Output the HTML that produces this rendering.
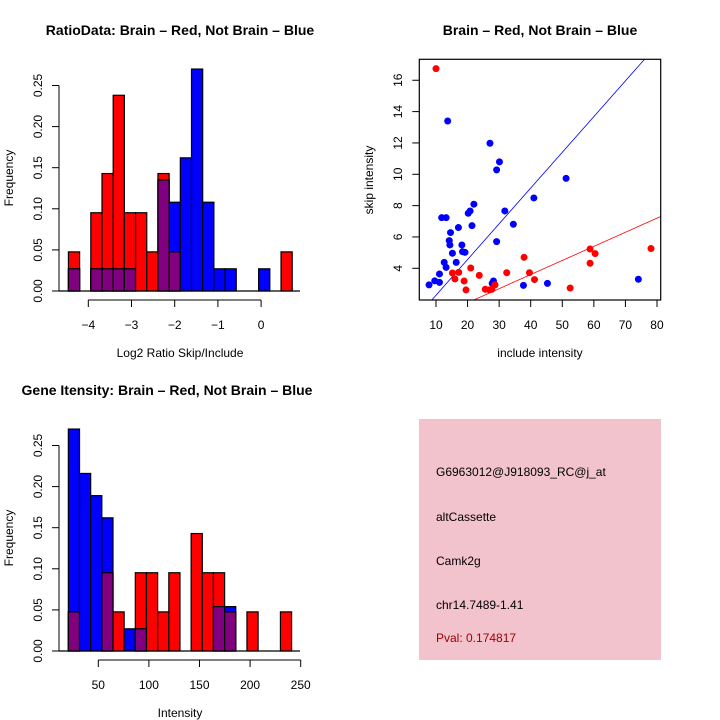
<!DOCTYPE html>
<html><head><meta charset="utf-8"><style>
html,body{margin:0;padding:0;background:#fff}
svg{display:block;font-family:"Liberation Sans",Arial,sans-serif}
</style></head><body>
<svg id="chart" width="720" height="720" viewBox="0 0 720 720" xmlns="http://www.w3.org/2000/svg">
<rect width="720" height="720" fill="#fff"/>
<text x="180" y="35" font-size="14" font-weight="bold" text-anchor="middle">RatioData: Brain – Red, Not Brain – Blue</text>
<text x="540" y="35" font-size="14" font-weight="bold" text-anchor="middle">Brain – Red, Not Brain – Blue</text>
<text x="167" y="395" font-size="14" font-weight="bold" text-anchor="middle">Gene Itensity: Brain – Red, Not Brain – Blue</text>
<text x="180" y="357" font-size="12" text-anchor="middle">Log2 Ratio Skip/Include</text>
<text transform="translate(13,178) rotate(-90)" font-size="12" text-anchor="middle">Frequency</text>
<text x="540" y="357" font-size="12" text-anchor="middle">include intensity</text>
<text transform="translate(373,180) rotate(-90)" font-size="12" text-anchor="middle">skip intensity</text>
<text x="180" y="717" font-size="12" text-anchor="middle">Intensity</text>
<text transform="translate(13,538) rotate(-90)" font-size="12" text-anchor="middle">Frequency</text>
<g>
<rect x="419" y="419" width="242" height="241" fill="#f2c3cc"/>
<text x="436" y="476" font-size="12">G6963012@J918093_RC@j_at</text>
<text x="436" y="521" font-size="12">altCassette</text>
<text x="436" y="565" font-size="12">Camk2g</text>
<text x="436" y="609" font-size="12">chr14.7489-1.41</text>
<text x="436" y="642" font-size="12" fill="#a00000">Pval: 0.174817</text>
</g>
</svg>
<script>
const ratioRed=[0.0476,0,0.0952,0.1429,0.2381,0.0952,0.0952,0.0476,0.1429,0.0476,0,0,0,0,0,0,0,0,0,0.0476];
const ratioBlue=[0.027,0,0.027,0.027,0.027,0.027,0,0,0.135,0.108,0.162,0.270,0.108,0.027,0.027,0,0,0.027,0,0];
const ratioTicks=[-4,-3,-2,-1,0];
const geneRed=[0.0476,0,0,0.0952,0.0476,0,0.0952,0.0952,0.0476,0.0952,0,0.1429,0.0952,0.0952,0.0476,0,0.0476,0,0,0.0476];
const geneBlue=[0.270,0.216,0.189,0.162,0,0.027,0.027,0,0,0,0,0,0,0.054,0.054,0,0,0,0,0];
const geneTicks=[50,100,150,200,250];
const freqTicks=[0,0.05,0.10,0.15,0.20,0.25];
const blueX=[7.8,9.6,11.1,11.1,11.8,13.2,13.7,12.6,13.2,14.2,14.4,14.6,15.2,16.4,17.1,18.2,18.4,19.2,20.2,20.8,22.0,21.4,27.1,29.2,30.1,29.2,28.2,27.8,31.8,34.5,37.7,41.0,45.3,51.2,74.1];
const blueY=[2.94,3.2,3.1,3.64,7.23,7.23,13.4,4.38,4.06,5.77,5.49,6.28,4.96,4.38,6.6,5.49,5.06,5.02,7.51,7.66,8.09,6.72,11.98,10.28,10.79,5.7,3.19,3.04,7.66,6.81,2.91,8.49,3.04,9.74,3.3];
const redX=[10,15.2,16.0,17.2,18.9,19.5,21.0,23.7,25.6,26.9,27.7,28.7,32.4,37.9,39.6,41.2,52.5,58.8,60.4,58.8,78.1];
const redY=[16.74,3.7,3.32,3.74,3.19,2.62,4.02,3.55,2.66,2.62,2.66,2.94,3.72,4.7,3.72,3.28,2.74,5.23,4.94,4.32,5.26];
const blueSlope=0.228, redSlope=0.09;
const scXTicks=[10,20,30,40,50,60,70,80];
const scYTicks=[4,6,8,10,12,14,16];

const svg=document.getElementById('chart');
const NS='http://www.w3.org/2000/svg';
function mk(tag,attrs,parent){const e=document.createElementNS(NS,tag);for(const k in attrs)e.setAttribute(k,attrs[k]);(parent||svg).appendChild(e);return e;}

function hist(prefix,red,blue,bin0,binW,x0px,pxPerUnit,base,ticks,xAxisStart,xAxisEnd,tickFmt){
  const g=mk('g',{});
  
  
  const X=v=>x0px+(v-ticks[0])*pxPerUnit;
  const Y=f=>base-f*822;
  for(let i=0;i<red.length;i++){
    const l=X(bin0+i*binW), r=X(bin0+(i+1)*binW);
    const parts=[[red[i],'#ff0000','red'],[blue[i],'#0000ff','blue'],[Math.min(red[i],blue[i]),'#800080','overlap']];
    for(const [v,c,n] of parts){
      if(v<=0)continue;
      const b=mk('rect',{x:l,y:Y(v),width:r-l,height:base-Y(v),fill:c,stroke:'#000','stroke-width':1.2},g);
      
      
    }
  }
  mk('line',{x1:59,x2:300,y1:base,y2:base,stroke:'#000','stroke-width':1.2},g);
  // y axis
  const ya=mk('g',{},g);
  
  
  mk('line',{x1:59,x2:59,y1:Y(0),y2:Y(0.25),stroke:'#000'},ya);
  for(const t of freqTicks){
    mk('line',{x1:52,x2:59,y1:Y(t),y2:Y(t),stroke:'#000'},ya);
    const tx=mk('text',{transform:`translate(42,${Y(t)}) rotate(-90)`,'font-size':12,'text-anchor':'middle'},ya);
    tx.textContent=t.toFixed(2);
    
    
  }
  const xa=mk('g',{},g);
  
  
  const ay=base+9;
  mk('line',{x1:X(xAxisStart),x2:X(xAxisEnd),y1:ay,y2:ay,stroke:'#000'},xa);
  for(const t of ticks){
    mk('line',{x1:X(t),x2:X(t),y1:ay,y2:ay+7,stroke:'#000'},xa);
    const tx=mk('text',{x:X(t),y:ay+29,'font-size':12,'text-anchor':'middle'},xa);
    tx.textContent=tickFmt(t);
    
    
  }
}
hist('ratio',ratioRed,ratioBlue,-4.46,0.259,88.3,43.2,291,ratioTicks,-4,0,t=>t<0?'\u2212'+(-t):''+t);
hist('gene',geneRed,geneBlue,20.4,11.03,98.3,50.6/50,651,geneTicks,50,250,t=>''+t);

// scatter
const sg=mk('g',{});


const L=419.3,R=660.7,T=59.3,B=300;
const SX=v=>436+(v-10)*3.157;
const SY=v=>268.3-(v-4)*15.67;
mk('clipPath',{id:'sclip'},sg);
mk('rect',{x:L,y:T,width:R-L,height:B-T},document.getElementById('sclip'));
const xMin=10-(436-L)/3.157, xMax=10+(R-436)/3.157;
const bl=mk('line',{x1:SX(xMin),y1:SY(blueSlope*xMin),x2:SX(xMax),y2:SY(blueSlope*xMax),stroke:'#0000ff','stroke-width':0.8,'clip-path':'url(#sclip)'},sg);


const rl=mk('line',{x1:SX(xMin),y1:SY(redSlope*xMin),x2:SX(xMax),y2:SY(redSlope*xMax),stroke:'#ff0000','stroke-width':0.8,'clip-path':'url(#sclip)'},sg);


for(let i=0;i<blueX.length;i++){
  const c=mk('circle',{cx:SX(blueX[i]),cy:SY(blueY[i]),r:3.5,fill:'#0000ff'},sg);
  
  
}
for(let i=0;i<redX.length;i++){
  const c=mk('circle',{cx:SX(redX[i]),cy:SY(redY[i]),r:3.5,fill:'#ff0000'},sg);
  
  
}
mk('rect',{x:L,y:T,width:R-L,height:B-T,fill:'none',stroke:'#000','stroke-width':1.2},sg);
for(const t of scXTicks){
  mk('line',{x1:SX(t),x2:SX(t),y1:B,y2:B+7,stroke:'#000'},sg);
  const tx=mk('text',{x:SX(t),y:B+29,'font-size':12,'text-anchor':'middle'},sg);
  tx.textContent=t;
  
  
}
for(const t of scYTicks){
  mk('line',{x1:L-7,x2:L,y1:SY(t),y2:SY(t),stroke:'#000'},sg);
  const tx=mk('text',{transform:`translate(402,${SY(t)}) rotate(-90)`,'font-size':12,'text-anchor':'middle'},sg);
  tx.textContent=t;
  
  
}
</script>
</body></html>
